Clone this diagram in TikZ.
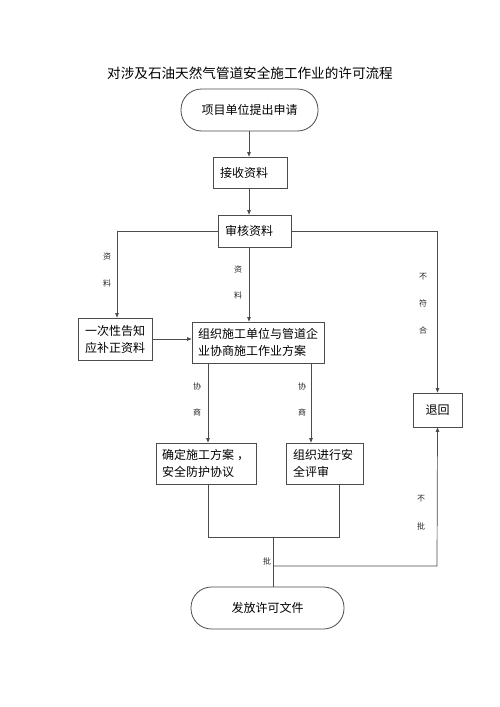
\documentclass[tikz,border=0pt]{standalone}
\usepackage{fontspec}
\setmainfont{Noto Sans CJK SC}
\usetikzlibrary{arrows.meta}
\begin{document}
\begin{tikzpicture}[x=1pt,y=-1pt,
  line/.style={draw=black!70,line width=0.7pt},
  arr/.style={line,-{Triangle[length=4.5pt,width=3.5pt]}},
  boxl/.style={draw=black!70,line width=0.8pt,inner xsep=7pt,inner ysep=0pt,font=\fontsize{12}{17}\selectfont,align=left,anchor=center},
  term/.style={draw=black!70,line width=0.8pt,rounded corners=20.5pt,inner sep=0pt,font=\fontsize{12}{17}\selectfont,anchor=center},
  lab/.style={inner sep=0pt,font=\fontsize{8}{8}\selectfont,text=black!85}
]
\useasboundingbox (0,0) rectangle (500,707);
\fill[white] (0,0) rectangle (500,707);
\node[inner sep=0pt,font=\fontsize{13.6}{16}\selectfont] (title) at (250,73) {对涉及石油天然气管道安全施工作业的许可流程};

\node[term,minimum width=137pt,minimum height=42pt] (start) at (249.5,110) {项目单位提出申请};
\node[boxl,minimum height=31pt,text width=60pt] (recv) at (250,172.5) {接收资料};
\node[boxl,minimum height=32pt,text width=59pt] (shen) at (254.5,231) {审核资料};
\node[draw=black!70,line width=0.8pt,inner sep=0pt,minimum width=74pt,minimum height=42pt,align=center,font=\fontsize{12}{17}\selectfont] (yici) at (115,339) {一次性告知\\应补正资料};
\node[boxl,minimum height=41pt,text width=120pt,inner xsep=6pt] (zuzhi) at (258,342.5) {组织施工单位与管道企\\业协商施工作业方案};
\node[draw=black!70,line width=0.8pt,inner sep=0pt,minimum width=49pt,minimum height=34pt,font=\fontsize{12}{17}\selectfont] (tui) at (437.5,410) {退回};
\node[boxl,minimum height=41pt,text width=88pt,inner xsep=6pt] (queding) at (206,463.5) {确定施工方案\kern3pt，\\安全防护协议};
\node[boxl,minimum height=41pt,text width=63pt] (pingshen) at (324.5,463.5) {组织进行安\\全评审};
\node[term,minimum width=153pt,minimum height=42pt] (issue) at (267.5,608) {发放许可文件};

\coordinate (cx) at (249,0);
\coordinate (lx) at (117,0);
\coordinate (qx) at (208,0);
\coordinate (px) at (311,0);
\coordinate (bx) at (339,0);
\coordinate (j1) at (208,537);
\coordinate (j2) at (339,537);
\coordinate (m) at (273,537);
\coordinate (n) at (273,566);
\coordinate (r) at (437,566);

\draw[arr] (start.south -| cx) -- (recv.north -| cx);
\draw[arr] (recv.south -| cx) -- (shen.north -| cx);
\draw[arr] (shen.west) -| (yici.north -| lx);
\draw[arr] (shen.east) -| (tui.north);
\draw[arr] (shen.south -| cx) -- (zuzhi.north -| cx);
\draw[arr] (yici.east) -- (yici.east -| zuzhi.west);
\draw[arr] (zuzhi.south -| qx) -- (queding.north -| qx);
\draw[arr] (zuzhi.south -| px) -- (pingshen.north -| px);
\draw[line] (queding.south -| qx) -- (j1) -- (j2) -- (pingshen.south -| bx);
\draw[line] (m) -- (issue.north -| m);
\draw[arr] (n) -- (r) -- (tui.south);

\node[lab] (l1a) at (107,256) {资};
\node[lab] (l1b) at (107,283) {料};
\node[lab] (l2a) at (238,269) {资};
\node[lab] (l2b) at (238,295) {料};
\node[lab] (l3a) at (423,277) {不};
\node[lab] (l3b) at (423,303) {符};
\node[lab] (l3c) at (423,330) {合};
\node[lab] (l4a) at (197,386) {协};
\node[lab] (l4b) at (197,412) {商};
\node[lab] (l5a) at (302,386) {协};
\node[lab] (l5b) at (302,412) {商};
\node[lab] (l6) at (267,561) {批};
\node[lab] (l7a) at (421,499) {不};
\node[lab] (l7b) at (421,526) {批};
\end{tikzpicture}
\end{document}
